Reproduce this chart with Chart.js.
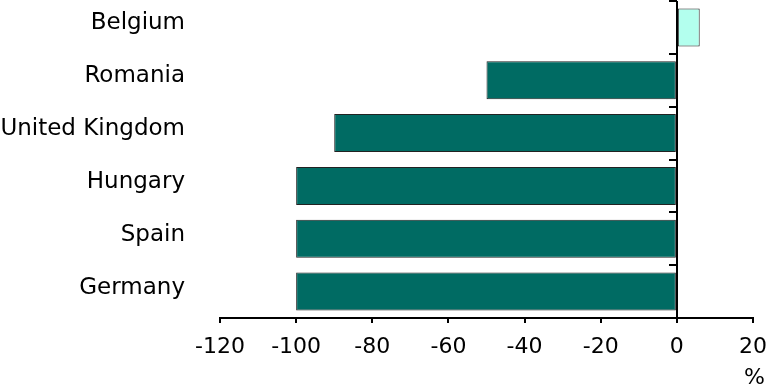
<!DOCTYPE html>
<html>
<head>
<meta charset="utf-8">
<script src="https://cdn.jsdelivr.net/npm/chart.js@4"></script>
<style>
  html, body { margin: 0; padding: 0; background: #fff; overflow: hidden; }
  canvas { display: block; }
</style>
</head>
<body>
<canvas id="grafico" width="768" height="390"></canvas>
<script>
// Datos del gráfico
const paises = ['Belgium', 'Romania', 'United Kingdom', 'Hungary', 'Spain', 'Germany'];
const valores = [6, -50, -90, -100, -100, -100];
const coloresBarra = ['#b3ffee', '#006b63', '#006b63', '#006b63', '#006b63', '#006b63'];
const ticksX = [-120, -100, -80, -60, -40, -20, 0, 20];

// Eje vertical en el cero con sus marcas entre categorías
const ejeCero = {
    id: 'ejeCero',
    afterDatasetsDraw(chart) {
        const ctx = chart.ctx;
        const area = chart.chartArea;
        const x0 = Math.round(chart.scales.x.getPixelForValue(0));
        const escalaY = chart.scales.y;
        ctx.save();
        ctx.strokeStyle = '#000';
        ctx.lineWidth = 2;
        ctx.beginPath();
        ctx.moveTo(x0, area.top);
        ctx.lineTo(x0, area.bottom);
        for (let i = 0; i < paises.length; i++) {
            const y = Math.round(escalaY.getPixelForValue(i - 0.5));
            ctx.moveTo(x0, y);
            ctx.lineTo(x0 - 8, y);
        }
        ctx.stroke();
        ctx.restore();
    }
};

new Chart(document.getElementById('grafico'), {
    type: 'bar',
    data: {
        labels: paises,
        datasets: [{
            data: valores,
            backgroundColor: coloresBarra,
            borderColor: '#222222',
            borderWidth: 1,
            borderSkipped: false,
            barPercentage: 0.72,
            categoryPercentage: 1,
        }]
    },
    plugins: [ejeCero],
    options: {
        indexAxis: 'y',
        responsive: false,
        animation: false,
        layout: { padding: { top: 1, right: 3, left: 0, bottom: 0 } },
        plugins: {
            legend: { display: false },
            tooltip: { enabled: false },
            title: {
                display: true,
                text: '%',
                position: 'bottom',
                align: 'end',
                color: '#000',
                font: { family: 'DejaVu Sans', size: 22, weight: 'normal', lineHeight: 1 },
                padding: { top: 0, bottom: 1 },
            },
        },
        scales: {
            x: {
                min: ticksX[0],
                max: ticksX[ticksX.length - 1],
                afterBuildTicks: (escala) => {
                    escala.ticks = ticksX.map(v => ({ value: v }));
                },
                afterFit: (escala) => {
                    escala.height = 49;
                    escala.paddingLeft = 0;
                    escala.paddingRight = 15;
                },
                border: { display: true, color: '#000', width: 2 },
                grid: { display: true, drawOnChartArea: false, tickLength: 5, color: '#000', lineWidth: 2 },
                ticks: { color: '#000', font: { family: 'DejaVu Sans', size: 22 }, padding: 11, maxRotation: 0 },
            },
            y: {
                position: 'left',
                afterFit: (escala) => {
                    escala.width = 220;
                    escala.paddingTop = 0;
                    escala.paddingBottom = 0;
                },
                border: { display: false },
                grid: { display: false, drawTicks: false },
                ticks: { color: '#000', font: { family: 'DejaVu Sans', size: 23 }, padding: 35, labelOffset: -4 },
            },
        },
    },
});
</script>
</body>
</html>
